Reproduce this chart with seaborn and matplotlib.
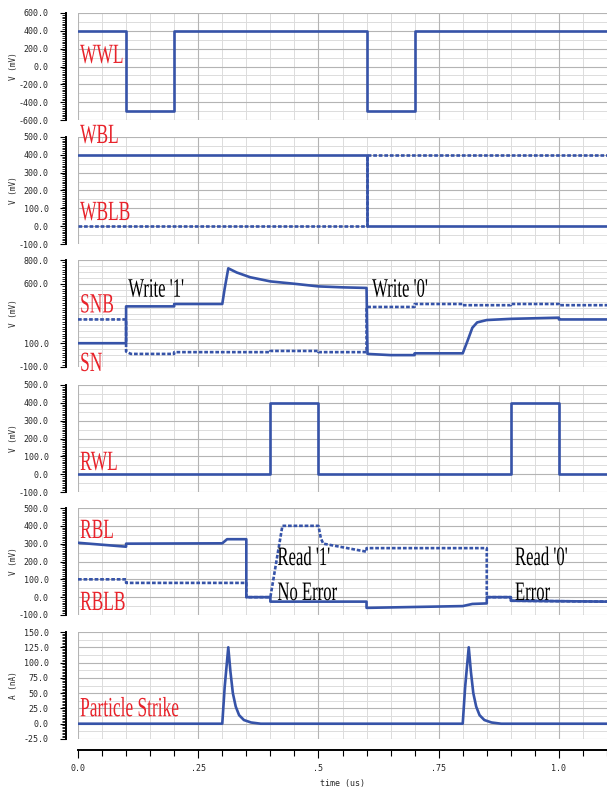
import numpy as np
import pandas as pd
import seaborn as sns
from matplotlib import pyplot as plt
from matplotlib import patheffects
from matplotlib.transforms import Affine2D
from matplotlib.ticker import MultipleLocator, FixedLocator, FormatStrFormatter

# ---- data (time in us) ----
t_wwl = [0, 0.1, 0.1, 0.2, 0.2, 0.6, 0.6, 0.7, 0.7, 1.1]
v_wwl = [400, 400, -500, -500, 400, 400, -500, -500, 400, 400]

t_wbl = [0, 0.6, 0.6, 1.1]
v_wbl = [400, 400, 0, 0]
t_wblb = [0, 0.6, 0.6, 1.1]
v_wblb = [0, 0, 400, 400]

t_sn = [0, 0.1, 0.1, 0.2, 0.2, 0.3, 0.305, 0.3125, 0.33, 0.358, 0.4, 0.45,
        0.5, 0.55, 0.6, 0.602, 0.65, 0.7, 0.7, 0.8, 0.81, 0.82, 0.83, 0.85,
        0.9, 1.0, 1.0, 1.1]
v_sn = [100, 100, 410, 410, 430, 430, 560, 730, 695, 655, 620, 600,
        578, 570, 565, 10, 0, 0, 15, 15, 120, 230, 275, 295,
        305, 315, 300, 300]
t_snb = [0, 0.1, 0.1, 0.11, 0.2, 0.2, 0.4, 0.4, 0.5, 0.5, 0.6, 0.6, 0.7,
         0.7, 0.8, 0.8, 0.9, 0.9, 1.0, 1.0, 1.1]
v_snb = [300, 300, 30, 10, 10, 25, 25, 35, 35, 25, 25, 405, 405,
         430, 430, 420, 420, 430, 430, 420, 420]

t_rwl = [0, 0.4, 0.4, 0.5, 0.5, 0.9, 0.9, 1.0, 1.0, 1.1]
v_rwl = [0, 0, 400, 400, 0, 0, 400, 400, 0, 0]

t_rbl = [0, 0.1, 0.1, 0.3, 0.31, 0.35, 0.35, 0.4, 0.4, 0.6, 0.6, 0.8,
         0.82, 0.85, 0.85, 0.9, 0.9, 1.1]
v_rbl = [305, 283, 300, 302, 325, 325, 0, 0, -25, -25, -60, -50,
         -38, -35, 0, 0, -20, -25]
t_rblb = [0, 0.1, 0.1, 0.35, 0.35, 0.4, 0.425, 0.5, 0.505, 0.51, 0.54,
          0.6, 0.6, 0.85, 0.85, 0.9, 0.9, 1.1]
v_rblb = [100, 100, 80, 80, 0, 0, 400, 400, 330, 300, 285,
          255, 275, 275, 0, 0, -20, -25]

t_ps = [0, 0.3, 0.305, 0.3125, 0.317, 0.322, 0.328, 0.335, 0.345, 0.36, 0.38,
        0.8, 0.805, 0.8125, 0.817, 0.822, 0.828, 0.835, 0.845, 0.86, 0.88, 1.1]
v_ps = [0, 0, 60, 125, 85, 50, 28, 14, 6, 2, 0,
        0, 60, 125, 85, 50, 28, 14, 6, 2, 0, 0]

x_ticks = [0, 0.25, 0.5, 0.75, 1.0]
x_labels = ['0.0', '.25', '.5', '.75', '1.0']

blue = '#3653a8'
red = '#e8222a'
dash = (0, (1.4, 0.7))

sns.set_style('white')
plt.rcParams['font.family'] = ['DejaVu Sans Mono']

fig = plt.figure(figsize=(6.07, 7.87), dpi=100)
W, H = 607, 787
left = 78 / W
tops = [13, 137, 260, 385, 508, 632]
ph = 107

# (ylim, labelled ticks, grid step, ruler step, ylabel)
specs = [
    ((-600, 600), [-600, -400, -200, 0, 200, 400, 600], 100, 20, 'V (mV)'),
    ((-100, 500), [-100, 0, 100, 200, 300, 400, 500], 50, 10, 'V (mV)'),
    ((-100, 800), [-100, 100, 600, 800], 50, 20, 'V (mV)'),
    ((-100, 500), [-100, 0, 100, 200, 300, 400, 500], 50, 10, 'V (mV)'),
    ((-100, 500), [-100, 0, 100, 200, 300, 400, 500], 50, 10, 'V (mV)'),
    ((-25, 150), [-25, 0, 25, 50, 75, 100, 125, 150], 12.5, 2.5, 'A (nA)'),
]

axes = []
for i, (top, spec) in enumerate(zip(tops, specs)):
    ylim, yt, gstep, rstep, ylab = spec
    ax = fig.add_axes([left, 1 - (top + ph) / H, 1 - left, ph / H],
                      sharex=axes[0] if axes else None)
    axes.append(ax)
    ax.set_xlim(0, 1.1)
    ax.set_ylim(*ylim)
    for y in np.arange(ylim[0], ylim[1] + 0.01, gstep):
        ax.axhline(y, color='#dcdcdc', lw=0.7, zorder=0)
    ax.yaxis.set_major_locator(FixedLocator(yt))
    ax.yaxis.set_minor_locator(MultipleLocator(rstep))
    ax.yaxis.set_major_formatter(FormatStrFormatter('%.1f'))
    ax.xaxis.set_major_locator(FixedLocator(x_ticks))
    ax.xaxis.set_minor_locator(MultipleLocator(0.05))
    ax.grid(True, which='major', axis='both', color='#b4b4b4', lw=0.8, zorder=0)
    ax.grid(True, which='minor', axis='x', color='#dcdcdc', lw=0.7, zorder=0)
    ax.set_axisbelow(True)
    for s in ['top', 'right', 'bottom']:
        ax.spines[s].set_visible(False)
    ax.spines['left'].set_position(('outward', 9))
    ax.spines['left'].set_color('black')
    ax.spines['left'].set_linewidth(1.4)
    ax.tick_params(axis='y', which='both', left=True, color='black')
    ax.tick_params(axis='y', which='major', direction='out', length=4, width=0.8,
                   pad=8, labelsize=6)
    ax.tick_params(axis='y', which='minor', direction='out', length=3, width=0.6)
    if i < 5:
        ax.tick_params(axis='x', which='both', length=0, labelbottom=False)

ax1, ax2, ax3, ax4, ax5, ax6 = axes


def draw(ax, t, v, ls='-'):
    df = pd.DataFrame({'t': t, 'v': v})
    sns.lineplot(data=df, x='t', y='v', ax=ax, sort=False, estimator=None,
                 color=blue, linewidth=1.9, linestyle=ls)
    ax.set_xlabel('')


draw(ax1, t_wwl, v_wwl)
draw(ax2, t_wblb, v_wblb, dash)
draw(ax2, t_wbl, v_wbl)
draw(ax3, t_snb, v_snb, dash)
draw(ax3, t_sn, v_sn)
draw(ax4, t_rwl, v_rwl)
draw(ax5, t_rblb, v_rblb, dash)
draw(ax5, t_rbl, v_rbl)
draw(ax6, t_ps, v_ps)

for ax, spec in zip(axes, specs):
    ax.set_ylabel(spec[4], fontsize=5.5)
    ax.yaxis.set_label_coords(-0.113, 0.5)

# bottom time axis
ax6.spines['bottom'].set_visible(True)
ax6.spines['bottom'].set_position(('outward', 8))
ax6.spines['bottom'].set_color('black')
ax6.spines['bottom'].set_linewidth(1.4)
ax6.spines['bottom'].set_bounds(0, 1.1)
ax6.set_xticks(x_ticks)
ax6.set_xticklabels(x_labels)
ax6.tick_params(axis='x', which='both', bottom=True, color='black')
ax6.tick_params(axis='x', which='major', direction='out', length=6, width=0.8,
                labelsize=6, pad=4)
ax6.tick_params(axis='x', which='minor', direction='out', length=4, width=0.8)
ax6.set_xlabel('time (us)', fontsize=6, labelpad=4)


# the labels in the picture are drawn tall and narrow
class Stretch(patheffects.AbstractPathEffect):
    def __init__(self, sy):
        super().__init__()
        self.sy = sy

    def draw_path(self, renderer, gc, tpath, affine, rgbFace=None):
        renderer.draw_path(gc, tpath, Affine2D().scale(1, self.sy) + affine,
                           rgbFace)


serif = ['Liberation Serif', 'DejaVu Serif']
def lbl(ax, x, y, s, c=red, size=12.5):
    ax.text(x, y, s, transform=ax.transAxes, color=c, fontsize=size,
            family=serif, va='baseline', ha='left', clip_on=False, zorder=5,
            path_effects=[Stretch(1.6)])

lbl(ax1, 0.004, 0.533, 'WWL')
lbl(ax2, 0.004, 0.944, 'WBL')
lbl(ax2, 0.004, 0.224, 'WBLB')
lbl(ax3, 0.004, 0.51, 'SNB')
lbl(ax3, 0.004, -0.037, 'SN')
lbl(ax3, 0.095, 0.657, "Write '1'", c='black', size=12)
lbl(ax3, 0.556, 0.657, "Write '0'", c='black', size=12)
lbl(ax4, 0.004, 0.206, 'RWL')
lbl(ax5, 0.004, 0.72, 'RBL')
lbl(ax5, 0.004, 0.047, 'RBLB')
lbl(ax5, 0.377, 0.467, "Read '1'", c='black', size=12)
lbl(ax5, 0.377, 0.14, 'No Error', c='black', size=12)
lbl(ax5, 0.826, 0.467, "Read '0'", c='black', size=12)
lbl(ax5, 0.826, 0.14, 'Error', c='black', size=12)
lbl(ax6, 0.004, 0.213, 'Particle Strike')

fig.savefig('out.png', dpi=100)
